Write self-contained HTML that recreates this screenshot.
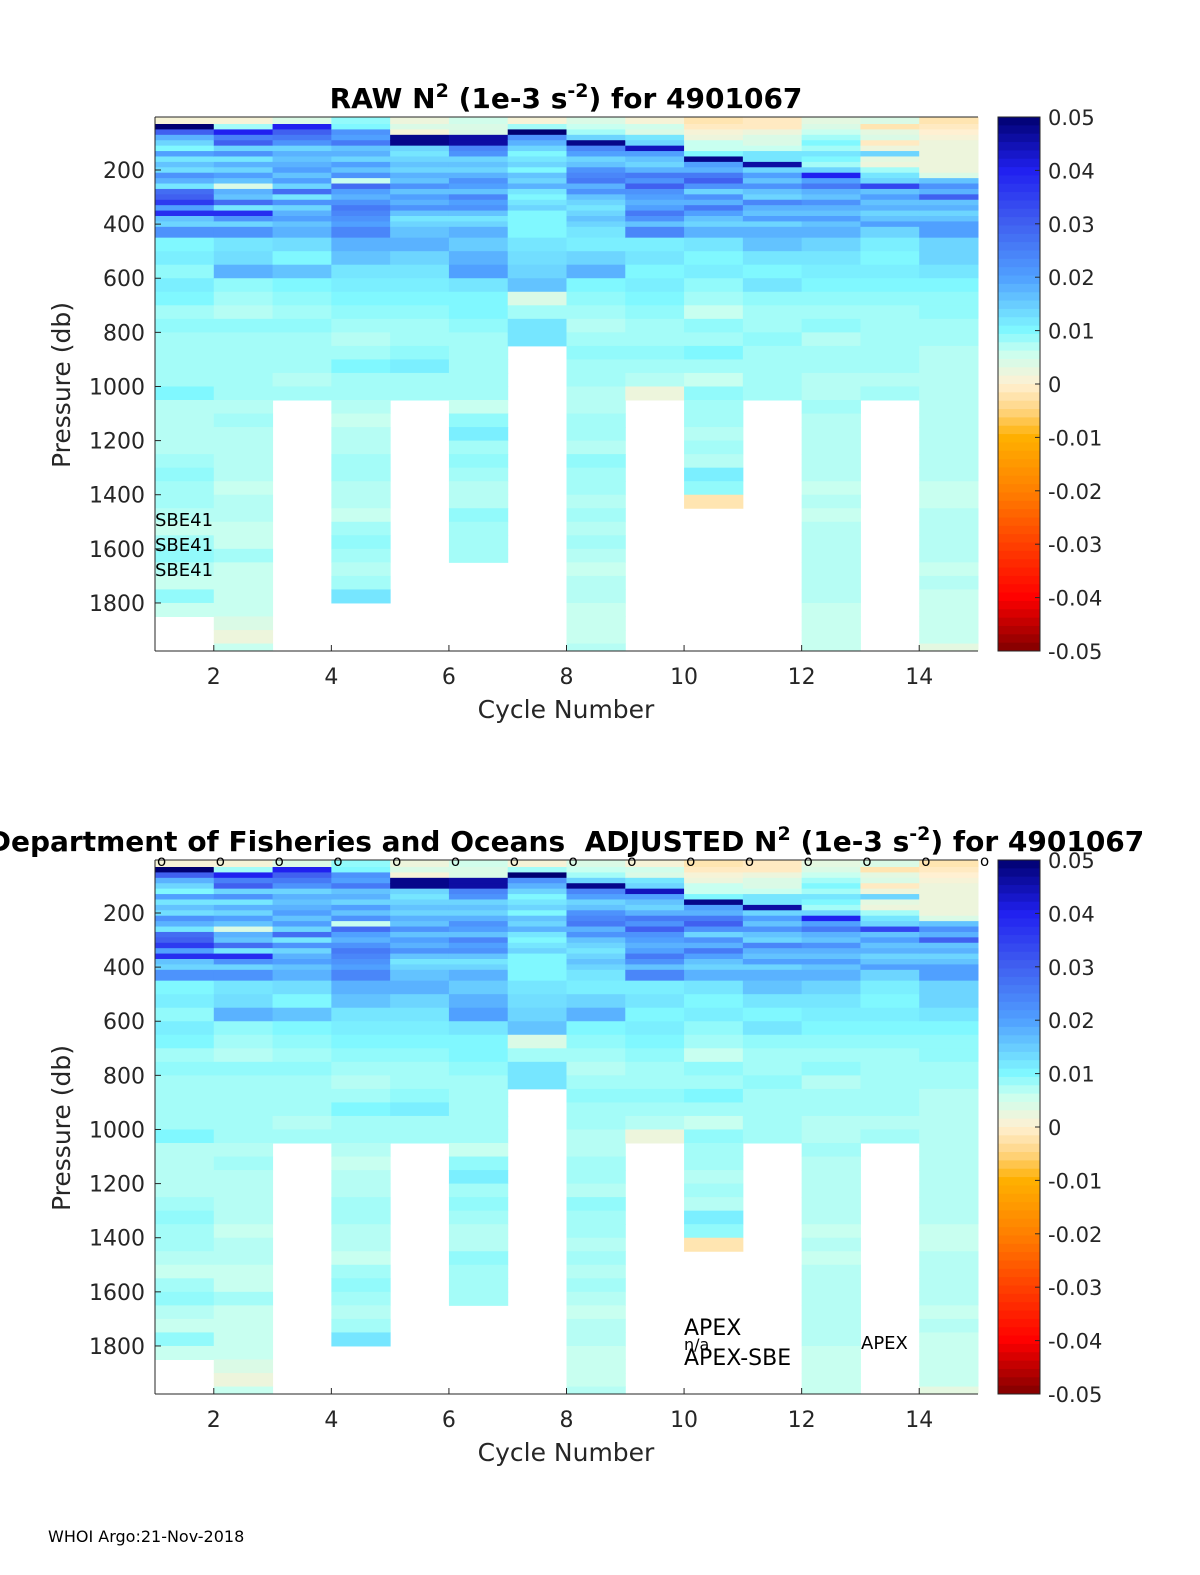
<!DOCTYPE html>
<html><head><meta charset="utf-8"><style>
html,body{margin:0;padding:0;background:#fff;width:1200px;height:1575px;overflow:hidden}
svg{display:block;font-family:"DejaVu Sans","Liberation Sans",sans-serif}
</style></head><body>
<svg id="svg" width="1200" height="1575" viewBox="0 0 1200 1575"></svg>
<script>
// pressure bin edges (db)
const edges=[4,30,50,70,90,110,130,150,170,190,210,230,250,270,290,310,330,350,370,390,410,450,500,550,600,650,700,750,800,850,900,950,1000,1050,1100,1150,1200,1250,1300,1350,1400,1450,1500,1550,1600,1650,1700,1750,1800,1850,1900,1950,1977];
const cycles=[1,2,3,4,5,6,7,8,9,10,11,12,13,14];
// N2 values x 1e3 (10 = 0.010)
const c1=[1,50,30,18,14,10,20,12,16,13,22,18,12,28,30,36,20,38,16,14,22,10,11,9,11,10,8,9,8,8,8,8,10,7,7,7,7,8,9,8,8,7,6,8,9,7,6,9,6];
const c2=[1,8,40,25,30,14,22,12,18,14,20,16,4,18,16,28,12,38,22,14,22,12,13,18,9,8,7,9,8,8,8,8,8,7,8,7,7,7,7,6,7,7,6,6,8,6,6,6,6,4,2,6];
const c3=[4,40,30,26,22,14,18,16,18,20,16,20,14,28,12,22,14,18,20,16,18,13,10,16,10,9,8,9,8,8,8,7,8];
const c4=[9,10,22,20,26,16,18,14,20,16,22,6,28,20,18,22,26,24,22,20,24,18,16,12,11,10,9,8,7,8,10,8,8,7,6,7,7,8,8,7,7,6,8,9,8,7,8,12];
const c5=[2,4,1,48,48,14,12,14,16,14,18,16,22,16,20,18,22,16,12,14,16,18,14,12,11,10,9,8,8,9,11,8,8];
const c6=[5,4,4,46,46,24,22,14,16,14,18,22,20,16,24,20,22,16,12,14,18,15,18,20,12,10,10,9,8,8,8,8,8,6,9,11,8,9,8,7,7,9,8,8,8];
const c7=[1,8,50,22,18,14,10,12,14,10,16,14,18,12,10,12,14,10,10,10,10,12,13,14,16,4,8,12,12];
const c8=[4,6,8,14,48,24,20,14,16,22,24,26,18,22,16,14,12,14,16,14,12,11,14,18,10,9,8,7,8,9,8,8,7,7,8,8,7,9,8,8,7,8,7,8,7,6,7,7,6,6,6,7];
const c9=[1,5,4,12,14,44,20,16,14,18,26,22,30,22,20,18,20,26,22,16,24,11,12,10,11,10,9,8,8,9,8,7,2];
const c10=[-2,-1,1,2,6,6,10,48,20,18,26,30,22,14,22,18,26,20,16,14,18,12,10,11,9,8,6,9,8,10,8,6,9,8,8,7,8,7,11,9,-2];
const c11=[-1,-1,2,4,4,6,12,12,46,14,20,16,22,16,14,24,18,16,20,14,18,16,12,10,12,9,8,8,9,8,8,8,8];
const c12=[3,4,6,8,10,8,12,10,8,14,40,20,26,18,16,22,18,16,20,16,18,14,12,11,10,9,8,9,7,8,8,7,7,8,7,7,7,7,7,6,7,6,7,7,7,7,7,7,6,6,6,6];
const c13=[4,-2,3,4,-1,2,14,3,2,8,12,14,34,16,20,16,18,14,16,20,14,11,10,11,10,9,8,8,8,8,8,7,8];
const c14=[-2,-1,0,1,2,2,2,2,2,2,4,16,22,18,30,16,18,14,16,20,20,14,14,12,10,9,9,8,8,7,7,7,7,7,7,7,7,7,7,6,6,7,7,7,7,6,7,6,6,6,6,3];
const series=[c1,c2,c3,c4,c5,c6,c7,c8,c9,c10,c11,c12,c13,c14];
const yTicks=[200,400,600,800,1000,1200,1400,1600,1800];
const xTicks=[2,4,6,8,10,12,14];
const cbTicks=["0.05","0.04","0.03","0.02","0.01","0","-0.01","-0.02","-0.03","-0.04","-0.05"];

const NS="http://www.w3.org/2000/svg";
const svg=document.getElementById('svg');
function mk(tag,attrs,parent,text){const e=document.createElementNS(NS,tag);for(const k in attrs)e.setAttribute(k,attrs[k]);if(text!==undefined)e.textContent=text;(parent||svg).appendChild(e);return e;}
const stops=[[-50,[128,0,0]],[-40,[255,0,0]],[-30,[255,64,0]],[-20,[255,128,0]],[-10,[255,176,0]],[-5,[255,212,128]],[0,[255,240,210]],[6,[200,255,240]],[10,[128,248,255]],[20,[80,160,255]],[30,[64,96,240]],[40,[32,32,240]],[50,[0,0,112]]];
function cmap(v){v=Math.max(-50,Math.min(50,v));for(let i=0;i<stops.length-1;i++){const a=stops[i],b=stops[i+1];if(v<=b[0]){const t=(v-a[0])/(b[0]-a[0]);const c=a[1].map((x,j)=>Math.round(x+(b[1][j]-x)*t));return `rgb(${c})`;}}return 'rgb(0,0,112)';}

function panel(off,title,pname){
  const L=155,R=978,T=117+off,B=651+off;
  const x=c=>L+(c-1)*(R-L)/14;
  const y=p=>170+off+(p-200)*0.2706;
  const g=mk('g',{},svg);
  series.forEach((arr,ci)=>{arr.forEach((v,i)=>{
    const r=mk('rect',{x:x(cycles[ci]),y:y(edges[i]),width:x(cycles[ci]+1)-x(cycles[ci])+0.5,height:y(edges[i+1])-y(edges[i])+0.5,fill:cmap(v)},g);
    
  });});
  mk('line',{x1:L,y1:T,x2:R,y2:T,stroke:'#262626','stroke-width':1},g);
  mk('line',{x1:L,y1:T,x2:L,y2:B,stroke:'#262626','stroke-width':1},g);
  mk('line',{x1:L,y1:B,x2:R,y2:B,stroke:'#262626','stroke-width':1},g);
  yTicks.forEach(p=>{mk('line',{x1:L,y1:y(p),x2:L+6,y2:y(p),stroke:'#262626'},g);
    const t=mk('text',{x:145,y:y(p)+8,'text-anchor':'end','font-size':22,fill:'#262626'},g,String(p));});
  xTicks.forEach(c=>{mk('line',{x1:x(c),y1:B,x2:x(c),y2:B-6,stroke:'#262626'},g);
    const t=mk('text',{x:x(c),y:B+33,'text-anchor':'middle','font-size':22,fill:'#262626'},g,String(c));});
  let t=mk('text',{x:566,y:B+67,'text-anchor':'middle','font-size':25,fill:'#262626'},g,'Cycle Number');
  t=mk('text',{x:0,y:0,'text-anchor':'middle','font-size':25,fill:'#262626',transform:`translate(70,${385+off}) rotate(-90)`},g,'Pressure (db)');
  const cbx=998,cbw=42,n=64;
  for(let i=0;i<n;i++){const v=50-(i+0.5)*100/n;const h=(B-T)/n;mk('rect',{x:cbx,y:T+i*h,width:cbw,height:h+0.5,fill:cmap(v)},g);}
  mk('rect',{x:cbx,y:T,width:cbw,height:B-T,fill:'none',stroke:'#262626'},g);
  cbTicks.forEach((s,i)=>{const yy=T+i*(B-T)/10;mk('line',{x1:cbx+cbw-5,y1:yy,x2:cbx+cbw,y2:yy,stroke:'#262626'},g);
    const tt=mk('text',{x:1048,y:yy+8,'font-size':21,fill:'#262626'},g,s);});
  t=mk('text',{x:566,y:T-9,'text-anchor':'middle','font-size':28,'font-weight':'bold',fill:'#000','xml:space':'preserve',style:'white-space:pre'},g);
  t.innerHTML=title;
  return {x,y};
}
const p1=panel(0,'RAW N<tspan dy="-11" font-size="19">2</tspan><tspan dy="11"> (1e-3 s</tspan><tspan dy="-11" font-size="19">-2</tspan><tspan dy="11">) for 4901067</tspan>','raw-panel');
const p2=panel(743,'Department of Fisheries and Oceans  ADJUSTED N<tspan dy="-11" font-size="19">2</tspan><tspan dy="11"> (1e-3 s</tspan><tspan dy="-11" font-size="19">-2</tspan><tspan dy="11">) for 4901067</tspan>','adjusted-panel');
[520,545,570].forEach(yy=>{const t=mk('text',{x:155,y:yy+6,'font-size':18,fill:'#000'},svg,'SBE41');});
for(let c=1;c<=15;c++){const t=mk('text',{x:p2.x(c)+2,y:866,'font-size':15,fill:'#000'},svg,'o');}
let t=mk('text',{x:684,y:1335,'font-size':22,fill:'#000'},svg,'APEX');
t=mk('text',{x:684,y:1350,'font-size':16,fill:'#000'},svg,'n/a');
t=mk('text',{x:684,y:1365,'font-size':22,fill:'#000'},svg,'APEX-SBE');
t=mk('text',{x:861,y:1349,'font-size':18,fill:'#000'},svg,'APEX');
t=mk('text',{x:48,y:1542,'font-size':16,fill:'#000'},svg,'WHOI Argo:21-Nov-2018');
</script>
</body></html>
